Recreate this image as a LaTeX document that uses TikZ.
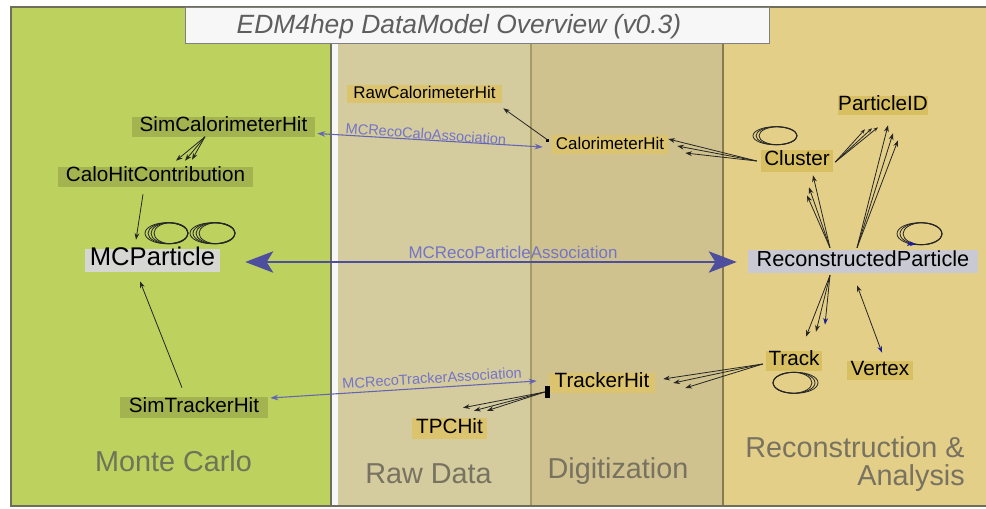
\documentclass[tikz,border=0pt]{standalone}
\usepackage{fontspec}
\setmainfont{Liberation Sans}
\usetikzlibrary{calc,arrows.meta}
\definecolor{mcpanel}{HTML}{BDD15F}
\definecolor{rawpanel}{HTML}{D4CB9E}
\definecolor{digipanel}{HTML}{CFC28E}
\definecolor{recpanel}{HTML}{E3CF88}
\definecolor{mcnode}{HTML}{A3B34F}
\definecolor{graynode}{HTML}{D6D6D2}
\definecolor{rawnode}{HTML}{DCC46F}
\definecolor{recnode}{HTML}{D8C062}
\definecolor{reconode}{HTML}{C9C9D3}
\definecolor{asc}{HTML}{6464B4}
\definecolor{asctext}{HTML}{7474C8}
\definecolor{bigasc}{HTML}{4E4E9E}
\definecolor{regiontext}{HTML}{787260}
\definecolor{mctext}{HTML}{6C7558}
\definecolor{titletext}{HTML}{5E5E5E}
\definecolor{headblue}{HTML}{1E1E9A}
\definecolor{frameline}{HTML}{6E6E5A}
\definecolor{divline}{HTML}{A39B62}
\begin{document}
\begin{tikzpicture}[x=0.75pt,y=-0.75pt,
  nb/.style n args={2}{minimum width=#1*0.75pt, minimum height=#2*0.75pt},
  lbl/.style={inner sep=0pt, text height=0.73em, text depth=0pt, text=black,
    font=\fontsize{15.5}{18}\selectfont},
  smalllbl/.style={lbl, font=\fontsize{12.7}{15}\selectfont},
  arr/.style={draw=black!85, line width=0.6pt, -{Stealth[length=5pt,width=3.6pt]}},
  arrb/.style={draw=black!85, line width=0.6pt, -{Stealth[length=5pt,width=3.6pt,color=headblue]}},
  loopst/.style={draw=black!85, line width=0.6pt},
  assoc/.style={draw=asc, line width=0.8pt, {Stealth[length=6pt,width=4.2pt]}-{Stealth[length=6pt,width=4.2pt]}},
  bigassoc/.style={draw=bigasc, line width=1.6pt, {Stealth[length=21pt,width=16pt,inset=5pt]}-{Stealth[length=21pt,width=16pt,inset=5pt]}},
  asclbl/.style={text=asctext, inner sep=0pt, font=\fontsize{10.9}{13}\selectfont},
  region/.style={text=regiontext, inner sep=0pt, font=\fontsize{21.6}{21}\selectfont}
]
\useasboundingbox (0,0) rectangle (986,508);
% panels
\fill[white] (0,0) rectangle (986,508);
\fill[mcpanel] (11,7) rectangle (331,506);
\fill[white!94!gray] (331,7) rectangle (338,506);
\fill[rawpanel] (338,7) rectangle (531,506);
\fill[digipanel] (531,7) rectangle (723,506);
\fill[recpanel] (723,7) rectangle (986,506);
\draw[divline, line width=0.8pt] (531,7) -- (531,506);
\draw[divline!80!black, line width=0.8pt] (723,7) -- (723,506);
\draw[frameline, line width=0.8pt] (331,7) -- (331,506);
\draw[frameline, line width=0.8pt] (986,7) -- (11,7) -- (11,506) -- (986,506);
% title
\fill[white!94!gray] (185,7) rectangle (769,43);
\draw[gray, line width=0.6pt] (185,7) rectangle (769,43);
\node[anchor=base, inner sep=0pt, text=titletext, font=\fontsize{19.8}{23}\selectfont\itshape] (title) at (459,33) {EDM4hep DataModel Overview (v0.3)};
% region labels
\node[region, text=mctext, anchor=base] (rmc) at (173.5,471) {Monte Carlo};
\node[region, anchor=base] (rraw) at (428.5,483) {Raw Data};
\node[region, anchor=base] (rdig) at (618,478) {Digitization};
\node[region, anchor=north east, align=right] (rrec) at (965,436.5) {Reconstruction \&\\Analysis};
% nodes
\node[lbl, nb={183}{20}, fill=mcnode] (sch) at (223.5,126.5) {SimCalorimeterHit};
\node[lbl, nb={195}{20}, fill=mcnode] (chc) at (155.5,177) {CaloHitContribution};
\node[lbl, nb={135}{23}, fill=graynode, font=\fontsize{19.2}{22}\selectfont] (mcp) at (152.5,260.5) {MCParticle};
\node[lbl, nb={148}{21}, fill=mcnode] (sth) at (194,407.5) {SimTrackerHit};
\node[smalllbl, nb={155}{18}, fill=rawnode] (raw) at (424.5,94) {RawCalorimeterHit};
\node[smalllbl, nb={116}{19}, fill=rawnode] (calo) at (610,144.5) {CalorimeterHit};
\node[lbl, nb={106}{20}, fill=rawnode] (th) at (602,383) {TrackerHit};
\node[lbl, nb={75}{21}, fill=rawnode] (tpc) at (449.5,428.5) {TPCHit};
\node[lbl, nb={90}{19}, fill=recnode] (pid) at (883,105.5) {ParticleID};
\node[lbl, nb={72}{22}, fill=recnode] (cl) at (797,161) {Cluster};
\node[lbl, nb={230}{23}, fill=reconode, font=\fontsize{16.3}{19}\selectfont] (reco) at (863,261.5) {ReconstructedParticle};
\node[lbl, nb={56}{20}, fill=recnode] (trk) at (794,361) {Track};
\node[lbl, nb={66}{19}, fill=recnode] (vtx) at (880,370.5) {Vertex};
% association arrows
\draw[bigassoc] ($(mcp.east)+(25,1.5)$) -- ($(reco.west)+(-11,0.5)$);
\node[asclbl, font=\fontsize{12.7}{15}\selectfont] (lpa) at (513,252) {MCRecoParticleAssociation};
\draw[assoc] ($(sch.east)+(2,7)$) -- ($(calo.west)+(-9,2.5)$);
\node[asclbl, rotate=-4.3] (lca) at (426,134) {MCRecoCaloAssociation};
\draw[assoc] ($(sth.east)+(2,-9.5)$) -- ($(th.west)+(-12,-2)$);
\node[asclbl, rotate=3.6] (lta) at (432,378) {MCRecoTrackerAssociation};
% Monte Carlo relations
\foreach \dx/\dy in {20.5/-6, 29.5/-6, 36.5/-7}
  \draw[arr] ($(sch.south)+(-18.5,0)$) -- ($(chc.north)+(\dx,\dy)$);
\draw[arr] ($(chc.south)+(-12.5,7)$) -- ($(mcp.north)+(-16.5,-9)$);
\draw[arr] ($(sth.north)+(-12,-9)$) -- ($(mcp.south)+(-12.5,9)$);
\foreach \dx/\r in {14/21.5, 15.5/20, 17/18.5, 18.5/17}
  \draw[loopst] ($(mcp.north)+(\dx,-15.5)$) ellipse [x radius=\r, y radius=10.5];
\foreach \dx/\r in {60/22.5, 61.5/21, 63/19.5, 64.5/18}
  \draw[loopst] ($(mcp.north)+(\dx,-15.5)$) ellipse [x radius=\r, y radius=10.5];
% calorimeter relations
\fill[black] ($(calo.west)+(-5.5,-6)$) rectangle ++(3,3);
\draw[arr] ($(calo.west)+(-4,-4.5)$) -- ($(raw.south east)+(1,5)$);
\foreach \dx/\dy in {0/-5.5, 9/1.5, 17/8.5}
  \draw[arr] ($(cl.west)+(-4,0)$) -- ($(calo.east)+(\dx,\dy)$);
\foreach \dx/\dy in {-18/14, -11/13, -5/12}
  \draw[arr, -{Stealth[length=3.5pt,width=2.6pt]}] ($(cl.east)+(2,1)$) -- ($(pid.south)+(\dx,\dy)$);
\foreach \dx/\r in {-22/22, -20.5/20.5, -19/19}
  \draw[loopst] ($(cl.north)+(\dx,-14)$) ellipse [x radius=\r, y radius=9];
% reconstructed particle relations
\foreach \dx/\dy in {16/3, 12/15, 10/23}
  \draw[arr] ($(reco.north)+(-33,-2)$) -- ($(cl.south)+(\dx,\dy)$);
\foreach \dx/\dy in {5/10, 10/18, 15/25}
  \draw[arr] ($(reco.north)+(-6,-2)$) -- ($(pid.south)+(\dx,\dy)$);
\foreach \dx/\r in {56.5/22.5, 58/21, 59.5/19.5}
  \draw[loopst] ($(reco.north)+(\dx,-16)$) ellipse [x radius=\r, y radius=11];
\foreach \a in {0,3}
  \draw[draw=headblue, line width=0.6pt, -{Stealth[length=4.5pt,width=3.4pt,color=headblue]}] ($(reco.north)+(44+\a,-6)$) -- ($(reco.north)+(50+\a,-5.5)$);
\draw[arr] ($(reco.south)+(-33,2)$) -- ($(trk.north)+(12,-14)$);
\draw[arr] ($(reco.south)+(-33,2)$) -- ($(trk.north)+(22,-19)$);
\draw[arrb] ($(reco.south)+(-33,2)$) -- ($(trk.north)+(31,-26)$);
\draw[draw=black!85, line width=0.6pt, {Stealth[length=5pt,width=3.6pt]}-{Stealth[length=5pt,width=3.6pt,color=headblue]}] ($(reco.south)+(-6,12)$) -- ($(vtx.north)+(2,-8)$);
% tracking relations
\foreach \dx/\dy in {8/-4, 18/0, 30/5}
  \draw[arr] ($(trk.west)+(-3,3)$) -- ($(th.east)+(\dx,\dy)$);
\foreach \dx/\r in {-1.5/19.5, 0/21, 1.5/22.5}
  \draw[loopst] ($(trk.south)+(\dx,11.5)$) ellipse [x radius=\r, y radius=10.5];
\fill[black] ($(th.west)+(-4,3)$) rectangle ++(5,12);
\foreach \dx/\dy in {13.5/-10, 24.5/-7, 37.5/-7}
  \draw[arr] ($(th.west)+(-4,9)$) -- ($(tpc.north)+(\dx,\dy)$);
\end{tikzpicture}
\end{document}
